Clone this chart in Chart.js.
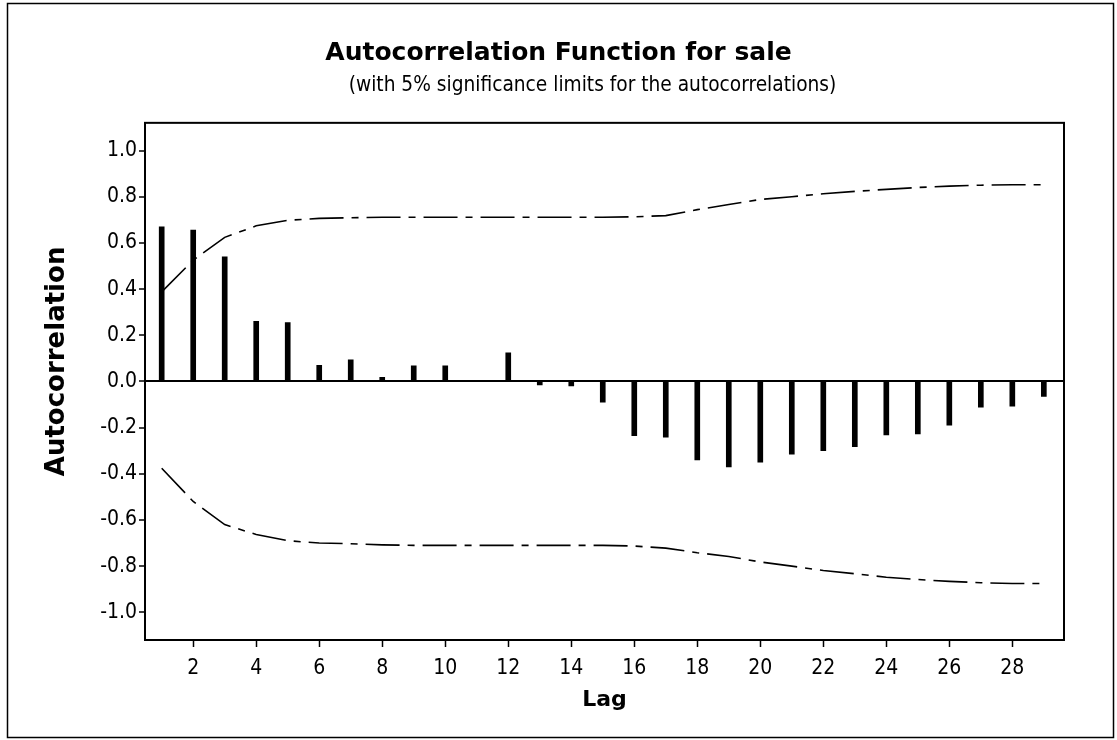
<!DOCTYPE html>
<html>
<head>
<meta charset="utf-8">
<script src="https://cdn.jsdelivr.net/npm/chart.js@4.4.1/dist/chart.umd.min.js"></script>
<style>
  html, body { margin: 0; padding: 0; background: #ffffff; }
  #wrap { width: 1117px; height: 740px; }
</style>
</head>
<body>
<div id="wrap"><canvas id="c" width="1117" height="740"></canvas></div>
<script>
// ---- data ----
const lags = [1,2,3,4,5,6,7,8,9,10,11,12,13,14,15,16,17,18,19,20,21,22,23,24,25,26,27,28,29];
const acf = [0.67, 0.655, 0.54, 0.26, 0.255, 0.07, 0.093, 0.018, 0.068, 0.068, 0.004, 0.124,
             -0.015, -0.02, -0.09, -0.235, -0.242, -0.34, -0.37, -0.35, -0.315, -0.30, -0.283,
             -0.232, -0.227, -0.19, -0.112, -0.107, -0.065];
const upperLimit = [0.388, 0.525, 0.624, 0.674, 0.698, 0.706, 0.709, 0.711, 0.711, 0.711, 0.711,
                    0.711, 0.711, 0.711, 0.711, 0.713, 0.718, 0.744, 0.766, 0.788, 0.80, 0.813,
                    0.823, 0.832, 0.84, 0.846, 0.85, 0.852, 0.852];
const lowerLimit = [-0.376, -0.52, -0.62, -0.663, -0.69, -0.70, -0.703, -0.708, -0.71, -0.71, -0.71,
                    -0.71, -0.71, -0.71, -0.71, -0.713, -0.722, -0.742, -0.758, -0.782, -0.80, -0.819,
                    -0.833, -0.848, -0.858, -0.866, -0.872, -0.875, -0.875];
const xTicks = [2,4,6,8,10,12,14,16,18,20,22,24,26,28];
const yTicks = [-1.0,-0.8,-0.6,-0.4,-0.2,0.0,0.2,0.4,0.6,0.8,1.0];
const titleText = 'Autocorrelation Function for sale';
const subtitleText = '(with 5% significance limits for the autocorrelations)';
const xTitle = 'Lag';
const yTitle = 'Autocorrelation';

const REG = "'DejaVu Sans Condensed', 'DejaVu Sans', sans-serif";
const BOLD = "'DejaVu Sans', sans-serif";
const limitDash = [34, 8, 7, 8];

const framePlugin = {
  id: 'frames',
  afterLayout(chart) {
    // nudge subtitle to the right as in the reference
    chart.boxes.forEach(b => {
      if (b.options && b.options.text === subtitleText && !b._nudged) {
        b.left += 34; b.right += 34; b._nudged = true;
      }
    });
    // shift y-axis title upward as in the reference
    const s = chart.scales.y;
    if (s && !s._wrappedTitle) {
      const orig = s.drawTitle.bind(s);
      s.drawTitle = function () {
        const t = this.top, b = this.bottom;
        this.top = t - 40; this.bottom = b;
        orig();
        this.top = t; this.bottom = b;
      };
      s._wrappedTitle = true;
    }
  },
  beforeDraw(chart) {
    const ctx = chart.ctx;
    ctx.save();
    ctx.fillStyle = '#ffffff';
    ctx.fillRect(0, 0, chart.width, chart.height);
    ctx.strokeStyle = '#000';
    ctx.lineWidth = 1.5;
    ctx.strokeRect(7.5, 3.5, 1106, 734);
    ctx.restore();
  },
  afterDraw(chart) {
    const a = chart.chartArea;
    const ctx = chart.ctx;
    ctx.save();
    ctx.strokeStyle = '#000';
    ctx.lineWidth = 2;
    ctx.strokeRect(a.left, a.top, a.right - a.left, a.bottom - a.top);
    ctx.restore();
  }
};

new Chart(document.getElementById('c'), {
  data: {
    datasets: [
      {
        type: 'bar',
        data: lags.map((l, i) => ({ x: l, y: acf[i] })),
        backgroundColor: '#000',
        borderWidth: 0,
        barThickness: 5,
        order: 2
      },
      {
        type: 'line',
        data: lags.map((l, i) => ({ x: l, y: upperLimit[i] })),
        borderColor: '#000',
        borderWidth: 1.6,
        borderDash: limitDash,
        pointRadius: 0,
        tension: 0,
        fill: false,
        order: 1
      },
      {
        type: 'line',
        data: lags.map((l, i) => ({ x: l, y: lowerLimit[i] })),
        borderColor: '#000',
        borderWidth: 1.6,
        borderDash: limitDash,
        pointRadius: 0,
        tension: 0,
        fill: false,
        order: 1
      }
    ]
  },
  options: {
    responsive: false,
    animation: false,
    devicePixelRatio: 1,
    layout: { padding: { left: 0, right: 0, top: 0, bottom: 0 } },
    plugins: {
      legend: { display: false },
      tooltip: { enabled: false },
      title: {
        display: true,
        text: titleText,
        color: '#000',
        font: { family: BOLD, size: 25, weight: 'bold', lineHeight: 1.2 },
        padding: { top: 38.5, bottom: 0 }
      },
      subtitle: {
        display: true,
        text: subtitleText,
        color: '#000',
        font: { family: REG, size: 20.7, weight: 'normal', lineHeight: 1.2 },
        padding: { top: 4.5, bottom: 25 }
      }
    },
    scales: {
      x: {
        type: 'linear',
        min: 0.47,
        max: 29.64,
        offset: false,
        afterBuildTicks: (s) => { s.ticks = xTicks.map(v => ({ value: v })); },
        afterFit: (s) => { s.height = 100; },
        border: { display: false },
        grid: { offset: false, drawOnChartArea: false, drawTicks: true, tickLength: 7, tickColor: '#000', tickWidth: 1.5 },
        ticks: { color: '#000', font: { family: REG, size: 21 }, padding: 9, autoSkip: false, maxRotation: 0,
                 callback: (v) => String(v) },
        title: { display: true, text: xTitle, color: '#000',
                 font: { family: BOLD, size: 22, weight: 'bold', lineHeight: 1.2 },
                 padding: { top: 0, bottom: 27 } }
      },
      y: {
        type: 'linear',
        position: 'left',
        min: -1.12,
        max: 1.12,
        afterBuildTicks: (s) => { s.ticks = yTicks.map(v => ({ value: v })); },
        afterFit: (s) => { s.width = 145; },
        border: { display: false },
        grid: {
          drawOnChartArea: true,
          drawTicks: true,
          tickLength: 6,
          tickColor: '#000',
          tickWidth: 1.5,
          lineWidth: 2,
          color: (ctx) => (ctx.tick && Math.abs(ctx.tick.value) < 1e-9) ? '#000' : 'rgba(0,0,0,0)'
        },
        ticks: { color: '#000', font: { family: REG, size: 21 }, padding: 2, autoSkip: false,
                 callback: (v) => Number(v).toFixed(1) },
        title: { display: true, text: yTitle, color: '#000',
                 font: { family: BOLD, size: 26, weight: 'bold', lineHeight: 1.2 },
                 padding: { top: 42, bottom: 0 } }
      },
      yRight: {
        type: 'linear',
        position: 'right',
        display: true,
        min: -1.12,
        max: 1.12,
        afterFit: (s) => { s.width = 53; },
        border: { display: false },
        grid: { display: false, drawTicks: false },
        ticks: { display: false }
      }
    }
  },
  plugins: [framePlugin]
});
</script>
</body>
</html>
